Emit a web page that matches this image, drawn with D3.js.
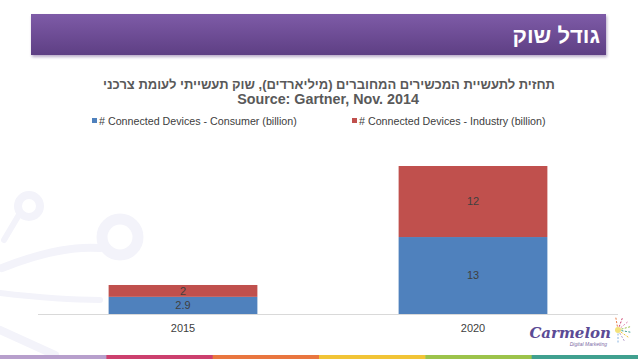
<!DOCTYPE html>
<html><head><meta charset="utf-8">
<script src="https://cdn.jsdelivr.net/npm/d3@7"></script>
<style>html,body{margin:0;padding:0;background:#fff;overflow:hidden}</style>
</head><body>
<script>
const categories = ["2015", "2020"];
const seriesNames = ["# Connected Devices - Consumer (billion)", "# Connected Devices - Industry (billion)"];
const consumer = [2.9, 13];
const industry = [2, 12];
const seriesColors = ["#4f81bd", "#c0504d"];
const slideTitle = "גודל שוק";
const chartTitle1 = "תחזית לתעשיית המכשירים המחוברים (מיליארדים), שוק תעשייתי לעומת צרכני";
const chartTitle2 = "Source: Gartner, Nov. 2014";
const stripColors = ["#b79fcc", "#cc406e", "#e9763f", "#f1c436", "#9cc34b", "#40a08f"];

const W = 638, H = 359;
const font = "Arial, 'Liberation Sans', 'DejaVu Sans', sans-serif";
const svg = d3.select("body").append("svg").attr("width", W).attr("height", H);
const defs = svg.append("defs");
const g1 = defs.append("linearGradient").attr("id", "ban").attr("x1", 0).attr("y1", 0).attr("x2", 0).attr("y2", 1);
g1.append("stop").attr("offset", "0%").attr("stop-color", "#7e5ba7");
g1.append("stop").attr("offset", "100%").attr("stop-color", "#5e3f84");
const blur = defs.append("filter").attr("id", "sh").attr("x", "-5%").attr("y", "-20%").attr("width", "110%").attr("height", "160%");
blur.append("feGaussianBlur").attr("stdDeviation", 1.5);

// faint background decoration
const deco = svg.append("g").attr("fill", "none").attr("stroke", "#f3f3fa").attr("stroke-linecap", "round");
deco.append("circle").attr("cx", 29).attr("cy", 206).attr("r", 11).attr("stroke-width", 8);
deco.append("circle").attr("cx", 120).attr("cy", 237).attr("r", 18).attr("stroke-width", 11);
deco.append("path").attr("d", "M2,268 Q60,245 100,248").attr("stroke-width", 8);
deco.append("path").attr("d", "M20,213 L4,240").attr("stroke-width", 6);
deco.append("path").attr("d", "M0,293 Q60,300 100,300").attr("stroke-width", 6);
deco.append("path").attr("d", "M0,330 L55,355").attr("stroke-width", 8);

// banner
svg.append("rect").attr("x", 32).attr("y", 16).attr("width", 575).attr("height", 41).attr("fill", "#b8aac8").attr("filter", "url(#sh)");
svg.append("rect").attr("x", 31).attr("y", 14).attr("width", 575).attr("height", 41).attr("fill", "url(#ban)");
svg.append("text").attr("x", 600).attr("y", 35).attr("dy", "0.36em").attr("text-anchor", "end")
  .attr("fill", "#fff").attr("font-family", font).attr("font-weight", "bold")
  .attr("font-size", 22).text(slideTitle);

// chart titles
svg.append("text").attr("x", 329).attr("y", 84).attr("dy", "0.36em").attr("text-anchor", "middle")
  .attr("fill", "#595959").attr("font-family", font).attr("font-weight", "bold").attr("font-size", 13).text(chartTitle1);
svg.append("text").attr("x", 328).attr("y", 99).attr("dy", "0.36em").attr("text-anchor", "middle")
  .attr("fill", "#595959").attr("font-family", font).attr("font-weight", "bold").attr("font-size", 14.3).text(chartTitle2);

// legend
const legX = [92, 352];
seriesNames.forEach((n, i) => {
  svg.append("rect").attr("x", legX[i]).attr("y", 118).attr("width", 5).attr("height", 5).attr("fill", seriesColors[i]);
  svg.append("text").attr("x", legX[i] + 7).attr("y", 121).attr("dy", "0.36em").attr("fill", "#404040")
    .attr("font-family", font).attr("font-size", 10.7).text(n);
});

// scales
const x = d3.scaleBand().domain(categories).range([38, 618]).paddingInner(0.487).paddingOuter(0.2435);
const y = d3.scaleLinear().domain([0, 30]).range([314, 136.4]);

const stackData = categories.map((c, i) => ({cat: c, consumer: consumer[i], industry: industry[i]}));
const keys = ["consumer", "industry"];
const stack = d3.stack().keys(keys)(stackData);

const bars = svg.append("g");
stack.forEach((layer, li) => {
  bars.selectAll(null).data(layer).join("rect")
    .attr("x", d => x(d.data.cat)).attr("width", x.bandwidth())
    .attr("y", d => y(d[1])).attr("height", d => y(d[0]) - y(d[1]))
    .attr("fill", seriesColors[li]);
  bars.selectAll(null).data(layer).join("text")
    .attr("x", d => x(d.data.cat) + x.bandwidth() / 2)
    .attr("y", d => (y(d[0]) + y(d[1])) / 2).attr("dy", "0.36em")
    .attr("text-anchor", "middle").attr("fill", "#404040").attr("font-family", font).attr("font-size", 11)
    .text(d => d.data[keys[li]]);
});

// x axis
const xAxis = svg.append("g").attr("transform", "translate(0,314)").call(d3.axisBottom(x).tickSize(0).tickPadding(10));
xAxis.select(".domain").attr("stroke", "#d9d9d9").attr("d", "M38,0.5H618");
xAxis.selectAll("text").attr("fill", "#404040").attr("font-family", font).attr("font-size", 11);

// bottom strip
const sw = W / stripColors.length;
svg.append("g").selectAll("rect").data(stripColors).join("rect")
  .attr("x", (d, i) => i * sw).attr("y", 355).attr("width", sw + 0.5).attr("height", 4).attr("fill", d => d);

// logo
const logo = svg.append("g");
const rays = [[-40, "#e08ab0"], [-15, "#9ac34b"], [10, "#40a08f"], [35, "#f1c436"], [-70, "#cc406e"], [60, "#b79fcc"], [-100, "#e9763f"], [90, "#8ab4e0"]];
rays.forEach(([a, c]) => {
  const r = a * Math.PI / 180;
  logo.append("line").attr("x1", 618).attr("y1", 330).attr("x2", 618 + 14 * Math.cos(r)).attr("y2", 330 + 14 * Math.sin(r))
    .attr("stroke", c).attr("stroke-width", 1).attr("stroke-dasharray", "2,1.5");
});
logo.append("circle").attr("cx", 618).attr("cy", 330).attr("r", 3).attr("fill", "#f3e27a");
logo.append("text").attr("x", 611).attr("y", 338).attr("text-anchor", "end").attr("fill", "#5b4b95")
  .attr("font-family", "'DejaVu Serif', serif").attr("font-style", "italic").attr("font-weight", "bold").attr("font-size", 15).text("Carmelon");
logo.append("text").attr("x", 607).attr("y", 346).attr("text-anchor", "end").attr("fill", "#7a6aa5")
  .attr("font-family", font).attr("font-style", "italic").attr("font-size", 5).text("Digital Marketing");
</script>
</body></html>
